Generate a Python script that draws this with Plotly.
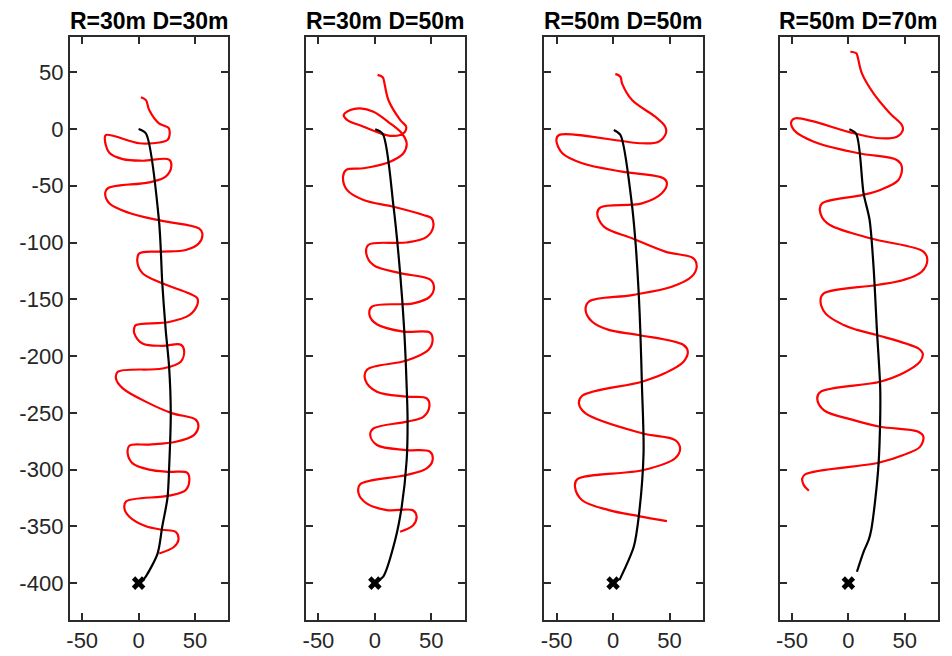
import plotly.graph_objects as go
from plotly.subplots import make_subplots

# Panel titles
titles = ["R=30m D=30m", "R=30m D=50m", "R=50m D=50m", "R=50m D=70m"]

# Tick labels
x_ticks = [-50, 0, 50]
y_ticks = [50, 0, -50, -100, -150, -200, -250, -300, -350, -400]

# Start point (cross marker)
start_x = [0]
start_y = [-400]

# Panel 1: R=30m D=30m
red_x_1 = [2, 6.5, 9.4, 18, 26.5, 27.6, 25.6, 12.4, 0.6, -29, -30, -26, -14, 3.5, 27, 29, 24, 9.4,
           -27, -29.6, -26, -8.2, 21, 53.5, 56.5, 53.5, 41.8, 21, 0.6, -1, 3.5, 21, 45, 52, 52, 45,
           27, -2.4, -3.8, -3.8, 3.5, 21, 37.4, 40.3, 37.4, 21, -18.5, -20, -14, 9.4, 30, 50.6, 53,
           49, 33, 9.4, -8.2, -9.7, -5.3, 9.4, 27, 43, 45, 41.8, 27, -11, -12.6, -8.2, 6.5, 21, 33,
           35.3, 31.5, 18.3]
red_y_1 = [28, 25.4, 16.7, 5, 1, -3, -9.7, -12.6, -12.6, -5.3, -8, -21, -26.6, -28, -27, -33, -42, -47,
           -52, -56, -65.5, -74, -81, -87.6, -92, -100.7, -106.6, -108, -109.6, -118, -127, -136, -145,
           -149, -155, -164, -170, -172.7, -175, -180, -189, -191, -190, -195, -205, -211, -214, -220,
           -228.5, -241.7, -250.5, -256, -262, -269.6, -275.5, -278, -279, -285.7, -294.5, -300, -302,
           -302.7, -309, -318, -323, -328, -334, -341.6, -350, -353, -355, -362, -368, -374]
blk_x_1 = [0, 6.5, 18, 21, 24, 27, 28.5, 27, 25.6, 21, 16.8, 6.5, 4]
blk_y_1 = [0, -4, -80, -136, -177, -209, -250, -300, -325, -350, -374, -394, -397]

# Panel 2: R=30m D=50m
red_x_2 = [2.4, 7, 8.2, 12, 22.4, 27.7, 26.8, 22.4, 13.5, 4.7, -10, -24.7, -27.6, -21.8, -13, -1.2,
           13.5, 23.8, 28.2, 25.3, 13.5, -10, -25.3, -28.2, -24.7, -10, 16.5, 43, 50.3, 51.8, 46,
           28.2, -5.6, -7.6, -1.2, 22.4, 48.8, 52.4, 48.8, 34, -2.6, -4.7, 1.8, 25.3, 48.8, 51.2,
           47.4, 28.2, -7, -8.5, 1.8, 28.2, 46, 48.3, 43, 28.2, -1.2, -4.1, 1.8, 28.2, 48.8, 51.2,
           46, 28.2, -13, -14.4, -7, 10.6, 34, 37, 34, 22.4]
red_y_2 = [47.6, 45.5, 41.7, 25.5, 8, 2, -2.3, -5.3, -6, -3.8, 2, 8, 12.3, 16.7, 18.2, 15.2,
           5, -3.8, -12.6, -21.4, -28.8, -34.6, -36, -42, -53.7, -62.6, -68.5, -75.8, -78.7, -86, -95,
           -100, -102, -109.6, -120, -127, -132.5, -139, -147.7, -153.6, -156.5, -164, -172, -178.5,
           -179.4, -186, -194.7, -204, -212, -221, -231.5, -235.8, -237.3, -244.6, -253.5, -257.8,
           -263.8, -269.6, -278.4, -282.8, -284.3, -291.6, -299, -304.8, -313, -321, -330, -335.7,
           -336, -341.6, -349, -354.8]
blk_x_2 = [0.3, 7, 16.5, 22.4, 26, 28.2, 29, 28.2, 23.8, 18, 7.6, 4]
blk_y_2 = [-0.3, -4.4, -68, -127, -177, -227, -256, -291.6, -332.8, -362, -394, -397]

# Panel 3: R=50m D=50m
red_x_3 = [2, 6.5, 7.9, 16.8, 37.3, 46.2, 46.8, 40.3, 25.6, -47.9, -50.3, -45, -27.4, 7.9, 44.7,
           47.7, 43.2, 25.6, -11.2, -14.1, -8.2, 16.8, 46.2, 71.2, 74.1, 69.7, 52, 16.8, -21.4,
           -24.4, -18.5, -3.8, 22.7, 62.4, 66.2, 62.4, 46.2, 25.6, -27.4, -30.3, -24.4, 25.6, 55,
           59.4, 55, 27, -31.8, -33.8, -27.4, -3.8, 22.7, 47.7]
red_y_3 = [48.5, 46, 40.2, 25.5, 10.8, 2, -3.8, -11.2, -12.6, -5.3, -9.7, -21.4, -30.2, -37.6, -43.4,
           -47.8, -56.6, -65.5, -69, -74.4, -86, -96.3, -108, -114, -121.3, -130, -139, -146.3, -152,
           -159.5, -169.8, -177, -181.5, -190.3, -196, -205, -215, -222.6, -235, -241.7, -250.5, -268,
           -274, -281.3, -290, -300.4, -308.6, -315, -327, -335.7, -341, -345.4]
blk_x_3 = [0.6, 6.5, 16.2, 19.7, 22.7, 24.1, 25.6, 27, 22.7, 18.3, 5.6]
blk_y_3 = [-0.9, -5.3, -62.6, -97.8, -144.8, -177, -227, -285.7, -341.6, -368, -397.4]

# Panel 4: R=50m D=70m
red_x_4 = [1.8, 7, 8.2, 12, 22.3, 37, 47.4, 48.3, 43, 28.2, 4.7, -46.8, -50.6, -48.3, -30.6, 9.1,
           43, 47.4, 44.4, 28.2, 13.5, -23.3, -25.3, -18.8, 19.4, 66.5, 70, 65, 48.8, 25.3, -21.8,
           -24.7, -20.3, -4.1, 7.6, 25.3, 62, 65.9, 63.5, 48.8, 28.2, -24.7, -27.6, -21.8, 4.7,
           28.2, 62, 66.5, 63.5, 48.8, 26.8, -38, -40.9, -39.5, -35]
red_y_4 = [68, 66.7, 63.7, 49, 31.4, 13.7, 3.5, -0.9, -6.8, -8.2, -3.8, 9.4, 6.4, -0.9, -11.2, -21.4,
           -27.3, -33.2, -45, -53.7, -58, -65.5, -71.4, -83, -96.3, -108, -115.4, -125.7, -133,
           -137.4, -144.8, -150.7, -162.4, -172.7, -177, -181.5, -193.3, -197.6, -205, -215, -222.6,
           -231.5, -237.3, -247.6, -256.4, -262.3, -266.6, -271, -280, -287.2, -294, -304, -307.8,
           -313.7, -318.7]
blk_x_4 = [0.9, 7, 13.5, 18.8, 22.3, 25.3, 28.2, 28.2, 26.8, 23.8, 20.3, 18, 13.5, 7.6]
blk_y_4 = [-0.3, -4.4, -56.7, -80, -121, -177, -227, -256, -294.5, -327, -353, -362, -372.4, -390]

reds = [(red_x_1, red_y_1), (red_x_2, red_y_2), (red_x_3, red_y_3), (red_x_4, red_y_4)]
blacks = [(blk_x_1, blk_y_1), (blk_x_2, blk_y_2), (blk_x_3, blk_y_3), (blk_x_4, blk_y_4)]

FONT = "Liberation Sans, Arial, Helvetica, sans-serif"
AXIS_COLOR = "#2b2b2b"
TEXT_COLOR = "#262626"

fig = make_subplots(rows=1, cols=4)

for i in range(4):
    col = i + 1
    rx, ry = reds[i]
    bx, by = blacks[i]
    fig.add_trace(go.Scatter(x=rx, y=ry, mode="lines",
                             line=dict(color="#ff0000", width=2.2, shape="spline", smoothing=1.0),
                             showlegend=False, hoverinfo="skip"), row=1, col=col)
    fig.add_trace(go.Scatter(x=bx, y=by, mode="lines",
                             line=dict(color="#000000", width=2.2, shape="spline", smoothing=0.8),
                             showlegend=False, hoverinfo="skip"), row=1, col=col)
    fig.add_trace(go.Scatter(x=start_x, y=start_y, mode="markers",
                             marker=dict(symbol="x", size=12, color="#000000",
                                         line=dict(width=0)),
                             showlegend=False, hoverinfo="skip"), row=1, col=col)

# Axes geometry (pixel positions in a 952x656 canvas)
W, H = 952, 656
x_px = [(67, 226), (304, 463), (543, 702), (779, 938)]
y_top, y_bot = 37, 620

common_axis = dict(
    showline=True, linecolor=AXIS_COLOR, linewidth=2, mirror="ticks",
    ticks="inside", ticklen=7, tickwidth=2, tickcolor=AXIS_COLOR,
    showgrid=False, zeroline=False,
    tickfont=dict(family=FONT, size=22, color=TEXT_COLOR),
)

for i in range(4):
    xa = "xaxis" if i == 0 else f"xaxis{i + 1}"
    ya = "yaxis" if i == 0 else f"yaxis{i + 1}"
    x0, x1 = x_px[i]
    fig.layout[xa].update(domain=[x0 / W, x1 / W], range=[-61, 79.5],
                          tickvals=x_ticks, ticktext=[str(v) for v in x_ticks],
                          **common_axis)
    fig.layout[ya].update(domain=[(H - y_bot) / H, (H - y_top) / H], range=[-432.5, 81],
                          tickvals=y_ticks,
                          ticktext=[str(v) for v in y_ticks] if i == 0 else [""] * len(y_ticks),
                          showticklabels=(i == 0),
                          **common_axis)
    fig.add_annotation(text=f"<b>{titles[i]}</b>", xref="paper", yref="paper",
                       x=(x0 + x1) / 2 / W, y=(H - y_top) / H, xanchor="center", yanchor="bottom",
                       yshift=1, showarrow=False,
                       font=dict(family=FONT, size=23, color="#000000"))

fig.update_layout(width=W, height=H, margin=dict(l=0, r=0, t=0, b=0),
                  plot_bgcolor="white", paper_bgcolor="white")

fig.write_html("out.html")
